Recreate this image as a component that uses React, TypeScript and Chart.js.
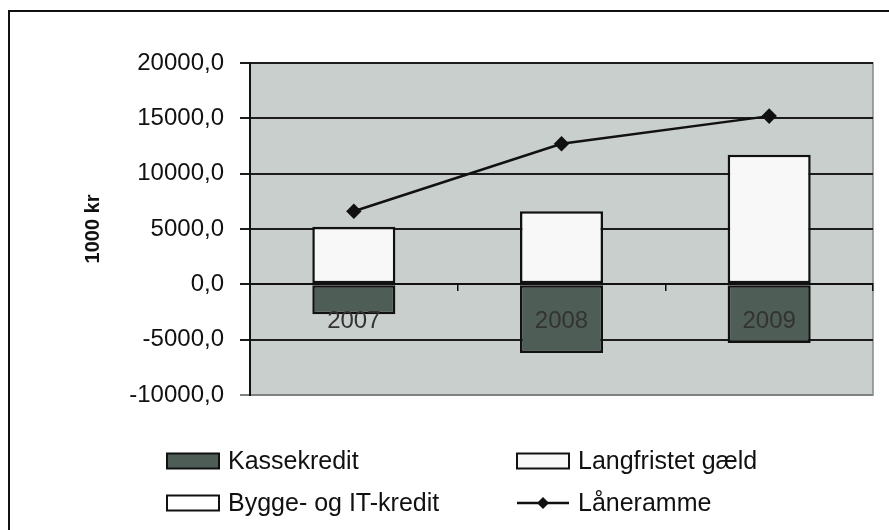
import React, { useEffect, useRef } from "react";
import { Chart, registerables } from "chart.js";

Chart.register(...registerables);

const categories = ["2007", "2008", "2009"];
const kassekredit = [-2700, -6200, -5300];
const langfristetGaeld = [5200, 6600, 11700];
const byggeItKredit = [0, 0, 0];
const laaneramme = [6600, 12700, 15200];
const yMin = -10000;
const yMax = 20000;
const yStep = 5000;
const yTitle = "1000 kr";

const FONT = "'Liberation Sans', Arial, sans-serif";

const fmt = (v: number) => v.toFixed(1).replace(".", ",");

const framePlugin = {
  id: "frameAndLegend",
  beforeDraw(chart: any) {
    const { ctx, chartArea: a, width, height } = chart;
    ctx.save();
    ctx.fillStyle = "#ffffff";
    ctx.fillRect(0, 0, width, height);
    ctx.fillStyle = "#c8cfcc";
    ctx.fillRect(a.left, a.top, a.right - a.left, a.bottom - a.top);
    ctx.strokeStyle = "#858a88";
    ctx.lineWidth = 1.5;
    ctx.strokeRect(a.left, a.top, a.right - a.left, a.bottom - a.top);
    ctx.restore();
  },
  afterDraw(chart: any) {
    const { ctx, width, height } = chart;
    ctx.save();
    // outer frame (top and left edges visible)
    ctx.strokeStyle = "#111";
    ctx.lineWidth = 2;
    ctx.beginPath();
    ctx.moveTo(9, height);
    ctx.lineTo(9, 11);
    ctx.lineTo(width, 11);
    ctx.stroke();

    // legend in a 2-column grid
    const cols = [167, 517];
    const rows = [461, 503];
    const boxW = 52;
    const boxH = 15;
    ctx.font = `25px ${FONT}`;
    ctx.textBaseline = "middle";
    ctx.textAlign = "left";
    chart.data.datasets.forEach((ds: any, i: number) => {
      const x = cols[i % 2];
      const y = rows[Math.floor(i / 2)];
      if (ds.type === "line") {
        ctx.strokeStyle = ds.borderColor;
        ctx.lineWidth = 2.5;
        ctx.beginPath();
        ctx.moveTo(x, y);
        ctx.lineTo(x + boxW, y);
        ctx.stroke();
        ctx.fillStyle = ds.borderColor;
        const cx = x + boxW / 2;
        const r = 6;
        ctx.beginPath();
        ctx.moveTo(cx, y - r);
        ctx.lineTo(cx + r, y);
        ctx.lineTo(cx, y + r);
        ctx.lineTo(cx - r, y);
        ctx.closePath();
        ctx.fill();
      } else {
        ctx.fillStyle = ds.backgroundColor;
        ctx.fillRect(x, y - boxH / 2, boxW, boxH);
        ctx.strokeStyle = "#111";
        ctx.lineWidth = 2;
        ctx.strokeRect(x, y - boxH / 2, boxW, boxH);
      }
      ctx.fillStyle = "#111";
      ctx.fillText(ds.label, x + boxW + 9, y + 1);
    });
    ctx.restore();
  },
};

export default function App() {
  const ref = useRef<HTMLCanvasElement | null>(null);

  useEffect(() => {
    document.body.style.margin = "0";
    const canvas = ref.current;
    if (!canvas) return;
    const chart = new Chart(canvas, {
      type: "bar",
      data: {
        labels: categories,
        datasets: [
          {
            type: "bar",
            label: "Kassekredit",
            data: kassekredit,
            backgroundColor: "#4f5d57",
            borderColor: "#111",
            borderWidth: 2.5,
            borderSkipped: false,
            barPercentage: 0.4,
            categoryPercentage: 1,
            stack: "bars",
          },
          {
            type: "bar",
            label: "Langfristet gæld",
            data: langfristetGaeld,
            backgroundColor: "#f8f8f8",
            borderColor: "#111",
            borderWidth: 2.5,
            borderSkipped: false,
            barPercentage: 0.4,
            categoryPercentage: 1,
            stack: "bars",
          },
          {
            type: "bar",
            label: "Bygge- og IT-kredit",
            data: byggeItKredit,
            backgroundColor: "#ffffff",
            borderColor: "#111",
            borderWidth: 2,
            borderSkipped: false,
            barPercentage: 0.4,
            categoryPercentage: 1,
            stack: "bars",
          },
          {
            type: "line",
            label: "Låneramme",
            data: laaneramme,
            borderColor: "#111",
            backgroundColor: "#111",
            borderWidth: 2.5,
            pointStyle: "rectRot",
            pointRadius: 6,
            pointBackgroundColor: "#111",
            pointBorderColor: "#111",
            tension: 0,
            fill: false,
            stack: "line",
            order: -1,
          },
        ] as any,
      },
      options: {
        responsive: false,
        animation: false,
        devicePixelRatio: 1,
        layout: { padding: { top: 63, right: 16, bottom: 135, left: 0 } },
        plugins: {
          legend: { display: false },
          tooltip: { enabled: false },
          title: { display: false },
        },
        scales: {
          x: {
            type: "category",
            stacked: true,
            position: { y: 0 } as any,
            offset: true,
            grid: {
              display: true,
              drawOnChartArea: false,
              drawTicks: true,
              tickLength: 6,
              color: "#111",
              lineWidth: 1.5,
              offset: true,
              z: 1,
            },
            border: { display: true, color: "#111", width: 2, z: 1 },
            ticks: {
              color: "#333",
              font: { family: FONT, size: 24 },
              padding: 17,
              z: 1,
              maxRotation: 0,
            },
          },
          y: {
            stacked: true,
            min: yMin,
            max: yMax,
            afterFit: (scale: any) => {
              scale.width = 250;
            },
            grid: {
              color: (c: any) => (c.tick && c.tick.value === yMin ? "#7d8280" : "#1c1c1c"),
              lineWidth: 2,
              drawTicks: true,
              tickLength: 10,
            },
            border: { display: true, color: "#111", width: 2 },
            ticks: {
              stepSize: yStep,
              color: "#111",
              font: { family: FONT, size: 24 },
              padding: 16,
              callback: (v: any) => fmt(Number(v)),
            },
            title: {
              display: true,
              text: yTitle,
              color: "#111",
              font: { family: FONT, size: 20, weight: "bold" },
              padding: { top: 81, bottom: 0 },
            },
          },
        },
      } as any,
      plugins: [framePlugin],
    });
    return () => chart.destroy();
  }, []);

  return (
    <div style={{ width: 889, height: 530 }}>
      <canvas ref={ref} width={889} height={530} style={{ display: "block" }} />
    </div>
  );
}
